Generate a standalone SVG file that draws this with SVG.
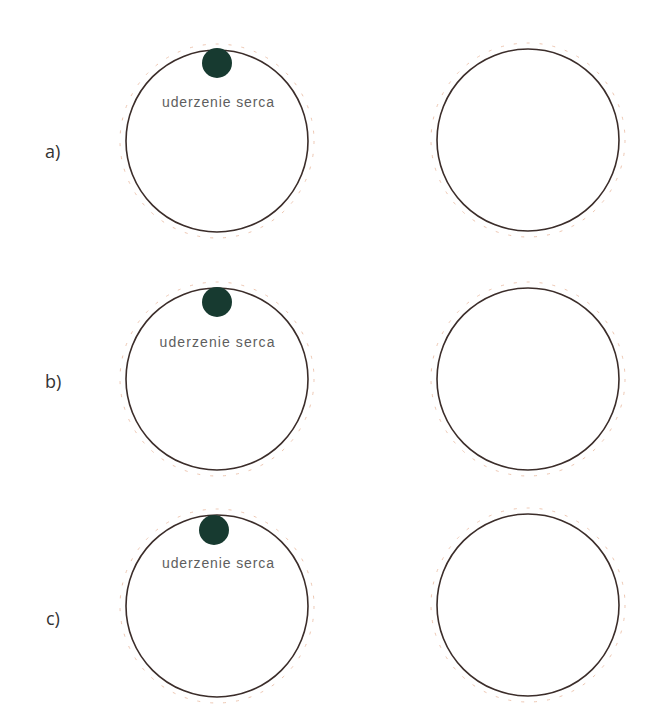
<svg xmlns="http://www.w3.org/2000/svg" width="657" height="705" viewBox="0 0 657 705">
<style>
.ring{fill:none;stroke:#3b2d2a;stroke-width:1.6}
.halo{fill:none;stroke:#eec7b2;stroke-width:1;stroke-dasharray:3 10}
.dot{fill:#173a30}
.lbl{font-family:"Liberation Sans",sans-serif;font-size:14px;fill:#5e5e5e;text-anchor:middle}
.row{font-family:"Open Sans","Liberation Sans",sans-serif;font-size:18px;fill:#333}
</style>
<rect width="657" height="705" fill="#fff"/>
<g id="label-a"><text class="row" x="45" y="158">a)</text></g>
<g id="label-b"><text class="row" x="45" y="388">b)</text></g>
<g id="label-c"><text class="row" x="46" y="625">c)</text></g>
<g id="a-left">
<circle class="halo" cx="217" cy="141" r="97"/>
<circle class="ring" cx="217" cy="141" r="91"/>
<circle class="dot" cx="217" cy="63" r="15"/>
<text class="lbl" x="218" y="107" textLength="112">uderzenie serca</text>
</g>
<g id="a-right">
<circle class="halo" cx="528" cy="140" r="97"/>
<circle class="ring" cx="528" cy="140" r="91"/>
</g>
<g id="b-left">
<circle class="halo" cx="217" cy="379" r="97"/>
<circle class="ring" cx="217" cy="379" r="91"/>
<circle class="dot" cx="217" cy="302" r="15"/>
<text class="lbl" x="217" y="347" textLength="115">uderzenie serca</text>
</g>
<g id="b-right">
<circle class="halo" cx="528" cy="379" r="97"/>
<circle class="ring" cx="528" cy="379" r="91"/>
</g>
<g id="c-left">
<circle class="halo" cx="217" cy="606" r="97"/>
<circle class="ring" cx="217" cy="606" r="91"/>
<circle class="dot" cx="214" cy="530" r="15"/>
<text class="lbl" x="218" y="568" textLength="112">uderzenie serca</text>
</g>
<g id="c-right">
<circle class="halo" cx="528" cy="605" r="97"/>
<circle class="ring" cx="528" cy="605" r="91"/>
</g>
<g id="connectors"></g>
</svg>
